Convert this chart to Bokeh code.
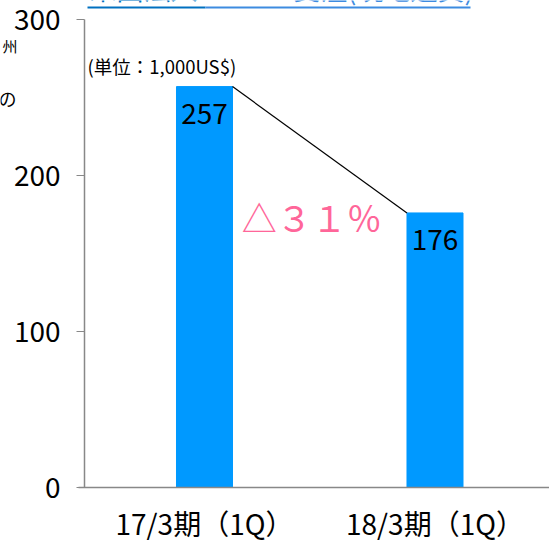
from bokeh.plotting import figure
from bokeh.models import Range1d, Label, FixedTicker, ColumnDataSource, LinearAxis, BoxAnnotation
from bokeh.embed import file_html
from bokeh.resources import INLINE

categories = ["17/3期（1Q）", "18/3期（1Q）"]
values = [257, 176]
value_labels = ["257", "176"]
y_ticks = [0, 100, 200, 300]
change_label = "△３１％"
unit_label = "(単位：1,000US$)"
title_a = "米国法人"
title_b = ":HMT-A受注(現地通貨)"

FONT = "Noto Sans CJK JP"
W, H = 549, 545
xs = list(range(len(categories)))

# layout scale: px per unit and origin position on the canvas
X0_PX, X_PX = 204, 230.5      # x=0 at 204px, one category step = 230.5px
Y0_PX, Y_PX = 487, 1.56       # y=0 at 487px from top, 1.56 px per unit
AXIS_PX = 84                  # y axis line position

def xd(px):
    return (px - X0_PX) / X_PX

def yd(px_from_top):
    return (Y0_PX - px_from_top) / Y_PX

p = figure(width=W, height=H, output_backend="svg", toolbar_location=None,
           x_axis_location=None, y_axis_location=None,
           x_range=Range1d(xd(0), xd(W)), y_range=Range1d(yd(H), yd(0)),
           min_border_left=0, min_border_right=0, min_border_top=0, min_border_bottom=0)
p.outline_line_color = None
p.background_fill_color = "white"
p.border_fill_color = "white"
p.grid.visible = False

src = ColumnDataSource(dict(x=xs, top=values, lab=value_labels))
p.vbar(x="x", top="top", width=0.243, source=src, fill_color="#0099ff", line_color="#0099ff")
p.text(x="x", y="top", text="lab", source=src, text_align="center", text_baseline="top",
       y_offset=16, text_font_size="28px", text_color="black", text_font={"value": FONT})

w = 0.243 / 2
p.segment(x0=[xs[0] + w], y0=[values[0]], x1=[xs[1] - w], y1=[values[1]],
          line_color="black", line_width=1.2)

p.text(x=[sum(xs) / len(xs)], y=[(values[0] + values[1]) / 2 - 45], text=[change_label],
       text_align="center", text_baseline="middle", x_offset=-8, y_offset=-3,
       text_font_size="35px", text_color="#ff6699", text_font={"value": FONT})

# x axis
xaxis = LinearAxis(fixed_location=0, bounds=(xd(78), xd(W)))
xaxis.ticker = FixedTicker(ticks=xs)
xaxis.major_label_overrides = {i: c for i, c in zip(xs, categories)}
xaxis.major_tick_line_color = None
xaxis.minor_tick_line_color = None
xaxis.axis_line_color = "#888888"
xaxis.axis_line_width = 1.5
xaxis.major_label_text_font = FONT
xaxis.major_label_text_font_size = "28px"
xaxis.major_label_text_color = "black"
xaxis.major_label_standoff = 9
p.add_layout(xaxis, "below")

# y axis
yaxis = LinearAxis(fixed_location=xd(AXIS_PX), bounds=(0, 300))
yaxis.ticker = FixedTicker(ticks=y_ticks)
yaxis.minor_tick_line_color = None
yaxis.major_tick_in = 0
yaxis.major_tick_out = 8
yaxis.major_tick_line_color = "#888888"
yaxis.axis_line_color = "#888888"
yaxis.axis_line_width = 1.5
yaxis.major_label_text_font = FONT
yaxis.major_label_text_font_size = "28px"
yaxis.major_label_text_color = "black"
yaxis.major_label_standoff = 16
p.add_layout(yaxis, "left")

# unit note
p.add_layout(Label(x=87, y=H - 78, x_units="screen", y_units="screen", text=unit_label,
                   text_font=FONT, text_font_size="18.5px", text_color="black"))

# cropped slide fragments: title (cut at top edge) and side text
p.add_layout(Label(x=89, y=H - 7, x_units="screen", y_units="screen", text=title_a,
                   text_font=FONT, text_font_size="27px", text_color="#0070c0"))
p.add_layout(Label(x=204, y=H - 7, x_units="screen", y_units="screen", text=title_b,
                   text_font=FONT, text_font_size="27px", text_color="#3d8be0"))
p.add_layout(BoxAnnotation(left=87, right=205, top=H - 6, bottom=H - 8,
                           left_units="screen", right_units="screen",
                           top_units="screen", bottom_units="screen",
                           fill_color="#0070c0", fill_alpha=1, line_color=None))
p.add_layout(BoxAnnotation(left=205, right=470, top=H - 6, bottom=H - 8,
                           left_units="screen", right_units="screen",
                           top_units="screen", bottom_units="screen",
                           fill_color="#3d8be0", fill_alpha=1, line_color=None))
p.add_layout(Label(x=2, y=H - 55, x_units="screen", y_units="screen", text="州",
                   text_font=FONT, text_font_size="15px", text_color="black"))
p.add_layout(Label(x=-2, y=H - 110, x_units="screen", y_units="screen", text="の",
                   text_font=FONT, text_font_size="18px", text_color="black"))

open("out.html", "w").write(file_html(p, INLINE))
